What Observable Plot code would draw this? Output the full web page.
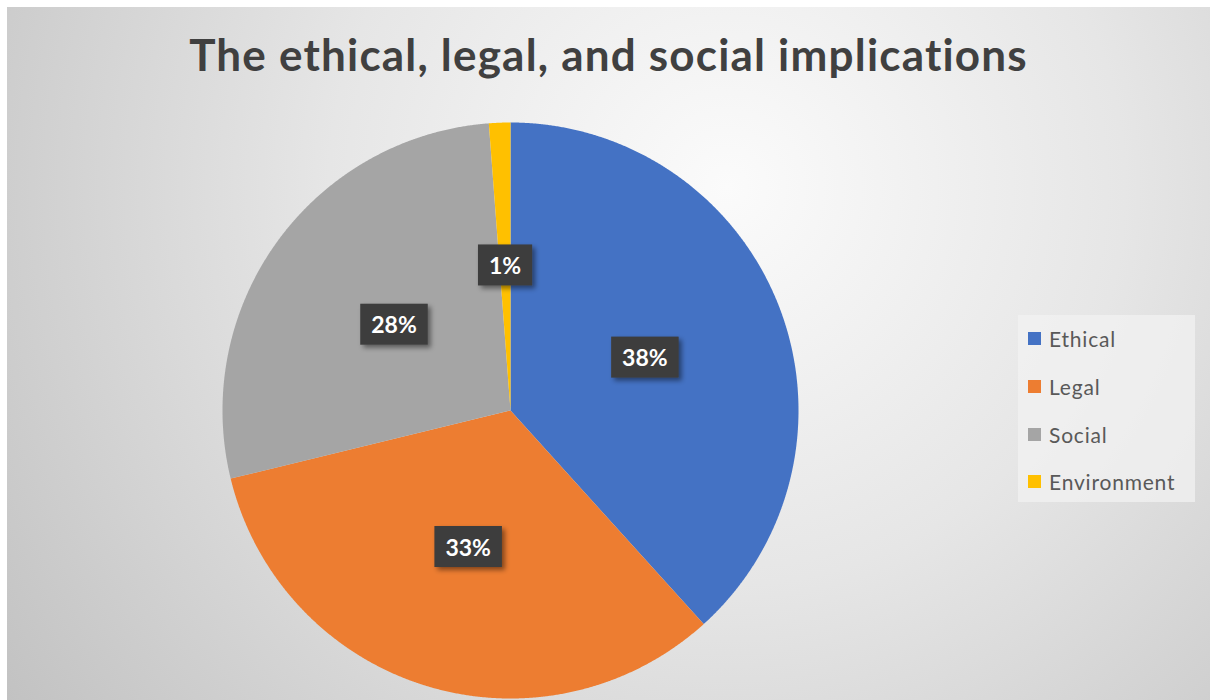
<!DOCTYPE html>
<html><head><meta charset="utf-8">
<script src="https://cdn.jsdelivr.net/npm/d3@7"></script>
<script src="https://cdn.jsdelivr.net/npm/@observablehq/plot@0.6"></script>
<style>
html,body{margin:0;padding:0;background:#fff;width:1210px;height:700px;overflow:hidden;}
#chart{position:absolute;left:7px;top:7px;width:1203px;height:693px;overflow:hidden;
  background:radial-gradient(circle farthest-corner at 720px 180px,#fbfbfb 0%,#e6e6e6 45%,#c2c2c2 100%);}
#title{position:absolute;left:0;top:21px;width:1203px;text-align:center;font-family:Lato,sans-serif;font-weight:bold;font-size:44px;letter-spacing:1.2px;color:#404040;white-space:nowrap;}
#plot{position:absolute;left:0;top:0;}
#legend{position:absolute;left:1011px;top:308px;width:177px;height:187px;background:rgba(242,242,242,0.75);box-sizing:border-box;padding-top:0px;}
.item{display:flex;align-items:center;height:47.7px;font-family:Lato,sans-serif;font-size:21px;letter-spacing:0.8px;color:#595959;}
.sw{width:13px;height:13px;margin-left:10px;margin-right:8px;}
</style></head>
<body>
<div id="chart">
  <div id="plot"></div>
  <div id="title">The ethical, legal, and social implications</div>
  <div id="legend"></div>
</div>
<script>
const categories = ["Ethical", "Legal", "Social", "Environment"];
const shares = [38.3, 32.9, 27.6, 1.2];
const colors = ["#4472C4", "#ED7D31", "#A5A5A5", "#FFC000"];

const total = d3.sum(shares);
const pie = d3.pie().sort(null).value(d => d)(shares);

// slice outlines as polygons in unit coordinates (y up)
const pts = [];
pie.forEach((s, i) => {
  const cat = categories[i];
  pts.push({cat, x: 0, y: 0});
  const n = Math.max(4, Math.ceil((s.endAngle - s.startAngle) / 0.004));
  for (let k = 0; k <= n; k++) {
    const a = s.startAngle + (s.endAngle - s.startAngle) * k / n;
    pts.push({cat, x: Math.sin(a), y: Math.cos(a)});
  }
  pts.push({cat, x: 0, y: 0});
});
const labelData = pie.map((s, i) => {
  const a = (s.startAngle + s.endAngle) / 2;
  return {cat: categories[i], x: 0.5 * Math.sin(a), y: 0.5 * Math.cos(a),
          text: Math.round(shares[i] / total * 100) + "%"};
});

const svg = Plot.plot({
  width: 1203, height: 693,
  marginLeft: 215, marginRight: 412, marginTop: 115, marginBottom: 2,
  x: {domain: [-1, 1], axis: null},
  y: {domain: [-1, 1], axis: null},
  color: {domain: categories, range: colors},
  style: {background: "transparent", overflow: "visible"},
  marks: [
    Plot.line(pts, {x: "x", y: "y", z: "cat", fill: "cat", stroke: "none", curve: "linear"}),
    Plot.text(labelData, {x: "x", y: "y", text: "text", fill: "white", fontSize: 23, fontWeight: "bold",
      fontFamily: "Lato, sans-serif", textAnchor: "middle", lineAnchor: "middle"})
  ]
});
document.getElementById("plot").appendChild(svg);

// label boxes behind texts
const ns = "http://www.w3.org/2000/svg";
const defs = document.createElementNS(ns, "defs");
defs.innerHTML = '<filter id="sh" x="-30%" y="-30%" width="160%" height="170%"><feDropShadow dx="3" dy="3" stdDeviation="2.5" flood-color="#000" flood-opacity="0.45"/></filter>';
svg.insertBefore(defs, svg.firstChild);
svg.querySelectorAll('g[aria-label="text"] text').forEach(t => {
  const b = t.getBBox();
  const r = document.createElementNS(ns, "rect");
  const w = b.width + 22, h = 41;
  r.setAttribute("x", b.x + b.width / 2 - w / 2);
  r.setAttribute("y", b.y + b.height / 2 - h / 2);
  r.setAttribute("width", w);
  r.setAttribute("height", h);
  r.setAttribute("fill", "#3d3d3d");
  r.setAttribute("filter", "url(#sh)");
  if (t.getAttribute("transform")) r.setAttribute("transform", t.getAttribute("transform"));
  t.parentNode.insertBefore(r, t);
});

// legend
const lg = document.getElementById("legend");
categories.forEach((c, i) => {
  const d = document.createElement("div");
  d.className = "item";
  d.innerHTML = `<span class="sw" style="background:${colors[i]}"></span><span>${c}</span>`;
  lg.appendChild(d);
});
</script>
</body></html>
